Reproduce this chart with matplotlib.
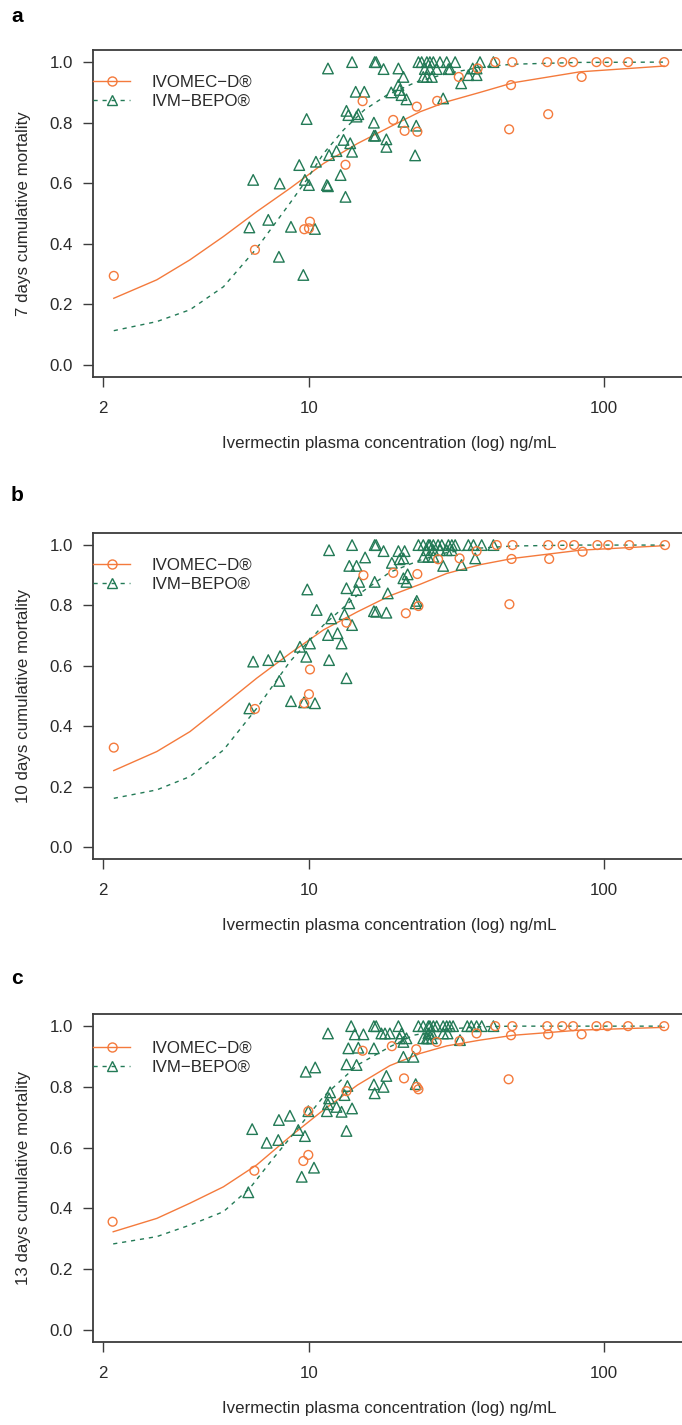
import matplotlib
matplotlib.use("Agg")
import matplotlib.pyplot as plt
from matplotlib.lines import Line2D
import numpy as np

plt.rcParams['font.family'] = ['Liberation Sans', 'DejaVu Sans']

# ---------------- data ----------------
products = ["IVOMEC\u2212D\u00ae", "IVM\u2212BEPO\u00ae"]
panel_letters = ["a", "b", "c"]
ylabels = ["7 days cumulative mortality", "10 days cumulative mortality", "13 days cumulative mortality"]
xlabel = "Ivermectin plasma concentration (log) ng/mL"
xticks = [2, 10, 100]
xticklabels = ["2", "10", "100"]
yticks = [0.0, 0.2, 0.4, 0.6, 0.8, 1.0]

# Panel a (7 days)
a_ivomec_conc = [2.18, 6.56, 9.64, 10.08, 10.0, 13.3, 15.2, 19.3, 21.1, 23.3, 23.2, 27.2, 32.2, 37.3,
                 42.8, 48.9, 48.4, 47.7, 64.7, 64.2, 72.2, 78.6, 84.0, 94.3, 102.8, 120.7, 160]
a_ivomec_mort = [0.294, 0.38, 0.448, 0.473, 0.451, 0.661, 0.871, 0.809, 0.773, 0.770, 0.853, 0.872, 0.951, 0.979,
                 1.0, 1.0, 0.924, 0.778, 0.828, 1.0, 1.0, 1.0, 0.951, 1.0, 1.0, 1.0, 1.0]
a_bepo_conc = [6.28, 6.47, 7.28, 7.91, 7.96, 8.69, 9.27, 9.57, 9.82, 9.69, 10.0, 10.48, 10.56, 11.5, 11.6,
               11.7, 12.4, 11.6, 12.8, 13.1, 13.3, 13.4, 13.6, 13.8, 14.0, 14.0, 14.4, 15.4, 14.5, 14.7,
               16.6, 16.8, 16.6, 16.7, 16.9, 17.9, 18.3, 18.3, 19.0, 20.1, 20.9, 20.1, 20.3, 20.6, 21.4,
               20.9, 23.1, 22.9, 28.5, 23.5, 24.1, 25.1, 25.7, 26.4, 27.8, 29.3, 31.3, 24.7, 25.7, 27.1,
               29.7, 30.1, 24.4, 25.1, 26.1, 32.8, 34.7, 35.9, 37.0, 37.0, 38.0, 42.2]
a_bepo_mort = [0.454, 0.611, 0.479, 0.357, 0.599, 0.456, 0.660, 0.297, 0.812, 0.611, 0.594, 0.449, 0.671, 0.594, 0.590,
               0.693, 0.706, 0.979, 0.627, 0.743, 0.555, 0.839, 0.825, 0.732, 0.704, 1.0, 0.902, 0.902, 0.820, 0.828,
               0.757, 0.757, 0.800, 1.0, 1.0, 0.977, 0.720, 0.745, 0.900, 0.979, 0.951, 0.924, 0.908, 0.891, 0.877,
               0.803, 0.790, 0.692, 0.880, 1.0, 1.0, 1.0, 1.0, 1.0, 1.0, 1.0, 1.0, 0.977, 0.977, 0.977,
               0.977, 0.977, 0.951, 0.951, 0.951, 0.930, 0.957, 0.979, 0.957, 0.979, 1.0, 1.0]
a_ivomec_fit_conc = [2.18, 3.05, 3.95, 5.13, 6.65, 8.62, 11.2, 14.6, 18.8, 23.8, 29.3, 38, 49.3, 83, 160]
a_ivomec_fit_mort = [0.220, 0.281, 0.347, 0.424, 0.506, 0.583, 0.665, 0.731, 0.786, 0.836, 0.869, 0.90, 0.932, 0.968, 0.987]
a_bepo_fit_conc = [2.18, 3.05, 3.95, 5.13, 6.65, 8.62, 9.82, 11.2, 13.1, 15.4, 18.3, 23.2, 29.3, 38, 49, 83, 160]
a_bepo_fit_mort = [0.113, 0.143, 0.182, 0.258, 0.385, 0.534, 0.611, 0.698, 0.776, 0.842, 0.89, 0.935, 0.962, 0.983, 0.993, 0.999, 1.0]

# Panel b (10 days)
b_ivomec_conc = [2.18, 6.56, 10.08, 10.0, 9.64, 13.4, 15.3, 19.3, 21.3, 23.5, 23.3, 27.4, 32.4, 37.0, 43.3, 49.0,
                 48.6, 47.8, 64.7, 65.2, 72.4, 79.2, 84.6, 95.0, 103.4, 121.8, 161]
b_ivomec_mort = [0.329, 0.457, 0.588, 0.506, 0.476, 0.743, 0.90, 0.908, 0.774, 0.798, 0.904, 0.953, 0.956, 0.980, 1.0, 1.0,
                 0.954, 0.804, 1.0, 0.954, 1.0, 1.0, 0.978, 1.0, 1.0, 1.0, 1.0]
b_bepo_conc = [6.28, 6.47, 7.28, 7.98, 7.93, 8.69, 9.32, 9.62, 10.48, 9.79, 10.08, 9.87, 10.62, 11.7, 11.6, 12.5,
               11.9, 12.9, 13.4, 13.2, 13.7, 14.0, 13.4, 14.5, 14.8, 13.7, 14.5, 15.5, 14.0, 11.7, 16.7, 16.9,
               17.9, 16.7, 18.5, 16.6, 16.9, 18.3, 19.1, 20.1, 21.1, 20.3, 20.9, 20.9, 21.4, 21.6, 23.0, 23.2,
               23.5, 24.4, 25.4, 25.7, 26.4, 27.4, 28.2, 29.7, 30.5, 31.3, 34.7, 36.1, 38.5, 42.2,
               25.1, 26.4, 27.8, 29.3, 30.5, 24.4, 25.4, 26.4, 28.5, 32.9, 36.6]
b_bepo_mort = [0.459, 0.614, 0.619, 0.632, 0.55, 0.483, 0.663, 0.479, 0.476, 0.630, 0.674, 0.853, 0.785, 0.619, 0.702, 0.708,
               0.757, 0.674, 0.559, 0.771, 0.807, 0.735, 0.857, 0.851, 0.878, 0.931, 0.931, 0.959, 1.0, 0.983, 1.0, 1.0,
               0.98, 0.878, 0.84, 0.781, 0.779, 0.776, 0.941, 0.98, 0.98, 0.953, 0.956, 0.89, 0.878, 0.903, 0.807, 0.815,
               1.0, 1.0, 1.0, 1.0, 1.0, 1.0, 1.0, 1.0, 1.0, 1.0, 1.0, 1.0, 1.0, 1.0,
               0.983, 0.983, 0.983, 0.983, 0.983, 0.961, 0.961, 0.961, 0.931, 0.934, 0.956]
b_ivomec_fit_conc = [2.18, 3.05, 3.95, 5.13, 6.65, 8.62, 11.2, 14.6, 18.8, 23.8, 29.3, 38, 49.3, 83, 160]
b_ivomec_fit_mort = [0.253, 0.316, 0.382, 0.470, 0.559, 0.641, 0.719, 0.779, 0.832, 0.87, 0.906, 0.935, 0.956, 0.983, 0.998]
b_bepo_fit_conc = [2.18, 3.05, 3.95, 5.13, 6.65, 8.62, 11.2, 14.6, 18.8, 23.8, 29.3, 38, 49.3, 83, 160]
b_bepo_fit_mort = [0.161, 0.189, 0.233, 0.321, 0.459, 0.614, 0.735, 0.834, 0.91, 0.95, 0.975, 0.99, 0.997, 1.0, 1.0]

# Panel c (13 days)
c_ivomec_conc = [2.16, 6.53, 9.57, 9.95, 9.95, 13.4, 15.2, 19.1, 21.0, 23.2, 23.5, 23.1, 27.1, 32.4, 37.0, 42.8,
                 48.9, 48.4, 47.5, 64.2, 64.7, 72.2, 78.6, 84.0, 94.3, 102.8, 120.7, 160]
c_ivomec_mort = [0.356, 0.524, 0.556, 0.576, 0.720, 0.786, 0.919, 0.934, 0.828, 0.80, 0.792, 0.924, 0.948, 0.951, 0.976, 1.0,
                 1.0, 0.97, 0.825, 1.0, 0.973, 1.0, 1.0, 0.973, 1.0, 1.0, 1.0, 1.0]
c_bepo_conc = [6.23, 6.42, 7.19, 7.87, 7.91, 8.62, 9.2, 9.45, 9.75, 10.5, 9.69, 9.95, 10.4, 11.5, 11.7, 11.8,
               11.6, 12.9, 12.4, 13.4, 14.0, 13.2, 13.5, 13.4, 14.5, 13.6, 14.7, 11.6, 13.9, 14.3, 15.3, 16.6,
               16.6, 16.9, 17.6, 18.1, 16.6, 17.9, 16.7, 18.3, 18.8, 20.1, 20.6, 20.3, 20.9, 21.4, 20.9, 22.6, 23.0,
               23.5, 24.4, 25.4, 25.7, 26.4, 27.1, 28.5, 29.3, 30.0, 30.8, 34.4, 35.5, 37.0, 38.5, 42.2,
               25.4, 26.1, 28.5, 29.5, 24.4, 25.4, 25.1, 26.1, 32.5]
c_bepo_mort = [0.453, 0.661, 0.616, 0.625, 0.691, 0.705, 0.658, 0.504, 0.850, 0.864, 0.638, 0.72, 0.534, 0.72, 0.762, 0.782,
               0.743, 0.718, 0.734, 0.655, 0.729, 0.773, 0.803, 0.874, 0.872, 0.927, 0.929, 0.976, 1.0, 0.973, 0.973, 0.927,
               1.0, 1.0, 0.976, 0.976, 0.808, 0.80, 0.779, 0.836, 0.976, 1.0, 0.976, 0.96, 0.948, 0.96, 0.899, 0.899, 0.809,
               1.0, 1.0, 1.0, 1.0, 1.0, 1.0, 1.0, 1.0, 1.0, 1.0, 1.0, 1.0, 1.0, 1.0, 1.0,
               0.976, 0.976, 0.976, 0.976, 0.96, 0.96, 0.96, 0.96, 0.954]
c_ivomec_fit_conc = [2.17, 3.05, 3.95, 5.13, 6.65, 8.62, 11.2, 14.6, 18.8, 23.8, 29.3, 38, 49.3, 83, 160]
c_ivomec_fit_mort = [0.323, 0.367, 0.417, 0.471, 0.543, 0.636, 0.724, 0.806, 0.87, 0.91, 0.935, 0.954, 0.97, 0.987, 0.996]
c_bepo_fit_conc = [2.17, 3.05, 3.95, 5.13, 6.3, 7.57, 8.62, 11.2, 14.6, 18.8, 22.6, 29.3, 38, 49.3, 83, 160]
c_bepo_fit_mort = [0.283, 0.307, 0.345, 0.389, 0.466, 0.565, 0.631, 0.768, 0.872, 0.932, 0.97, 0.99, 0.998, 1.0, 1.0, 1.0]

# ---------------- style ----------------
ORANGE = '#F47A3C'
GREEN = '#237A56'
FRAME = '#3c3c3c'
TEXT = '#2a2a2a'
FS = 12.2
W, H = 682, 1425

fig = plt.figure(figsize=(W / 100, H / 100), dpi=100)

panels = [
    (a_ivomec_conc, a_ivomec_mort, a_bepo_conc, a_bepo_mort,
     a_ivomec_fit_conc, a_ivomec_fit_mort, a_bepo_fit_conc, a_bepo_fit_mort),
    (b_ivomec_conc, b_ivomec_mort, b_bepo_conc, b_bepo_mort,
     b_ivomec_fit_conc, b_ivomec_fit_mort, b_bepo_fit_conc, b_bepo_fit_mort),
    (c_ivomec_conc, c_ivomec_mort, c_bepo_conc, c_bepo_mort,
     c_ivomec_fit_conc, c_ivomec_fit_mort, c_bepo_fit_conc, c_bepo_fit_mort),
]
# pixel extents of each plot frame (top, bottom)
frames = [(50, 377), (533, 859), (1014, 1342)]
letter_y = [17, 496, 978]
legend_frac = [0.872, 0.871, 0.866]
left_px, right_px = 93, 686

for i, (data, (top, bot)) in enumerate(zip(panels, frames)):
    ivc, ivm, bpc, bpm, ifc, ifm, bfc, bfm = data
    ax = fig.add_axes([left_px / W, 1 - bot / H, (right_px - left_px) / W, (bot - top) / H])
    ax.set_xscale('log')
    ax.set_xlim(10 ** 0.268, 10 ** 2.278)
    ax.set_ylim(-0.04, 1.04)

    ax.plot(ifc, ifm, color=ORANGE, lw=1.0, zorder=2)
    ax.plot(bfc, bfm, color=GREEN, lw=1.0, dashes=(3, 3.5), zorder=2)
    ax.scatter(bpc, bpm, marker='^', s=58, facecolors='none', edgecolors=GREEN, linewidths=1.0, zorder=3)
    ax.scatter(ivc, ivm, marker='o', s=40, facecolors='none', edgecolors=ORANGE, linewidths=1.0, zorder=4)

    ax.set_xticks(xticks)
    ax.set_xticklabels(xticklabels)
    ax.xaxis.set_minor_locator(matplotlib.ticker.NullLocator())
    ax.set_yticks(yticks)
    ax.set_yticklabels([f"{v:.1f}" for v in yticks])
    ax.tick_params(axis='both', direction='out', length=7, width=1.0, color=FRAME,
                   labelsize=FS, labelcolor=TEXT)
    ax.tick_params(axis='x', pad=10)
    ax.tick_params(axis='y', pad=7.5)
    for sp in ax.spines.values():
        sp.set_color(FRAME)
        sp.set_linewidth(1.3)

    ax.set_xlabel(xlabel, fontsize=FS, color=TEXT, labelpad=15)
    ax.set_ylabel(ylabels[i], fontsize=FS, color=TEXT, labelpad=13)

    handles = [
        Line2D([0], [0], color=ORANGE, lw=1.0, marker='o', markersize=6.5,
               markerfacecolor='none', markeredgecolor=ORANGE, markeredgewidth=1.0),
        Line2D([0], [0], color=GREEN, lw=1.0, dashes=(3, 3.5), marker='^', markersize=7.5,
               markerfacecolor='none', markeredgecolor=GREEN, markeredgewidth=1.0),
    ]
    ax.legend(handles, products, loc='center left', bbox_to_anchor=(0, legend_frac[i]),
              frameon=False, fontsize=FS, handlelength=2.2, handletextpad=1.25,
              borderpad=0, borderaxespad=0, labelspacing=0.25, numpoints=1,
              labelcolor=TEXT)

    fig.text(11 / W, 1 - letter_y[i] / H, panel_letters[i], fontsize=15, fontweight='bold',
             ha='left', va='center', family=['Liberation Sans', 'DejaVu Sans'])

fig.savefig('out.png', dpi=100)
